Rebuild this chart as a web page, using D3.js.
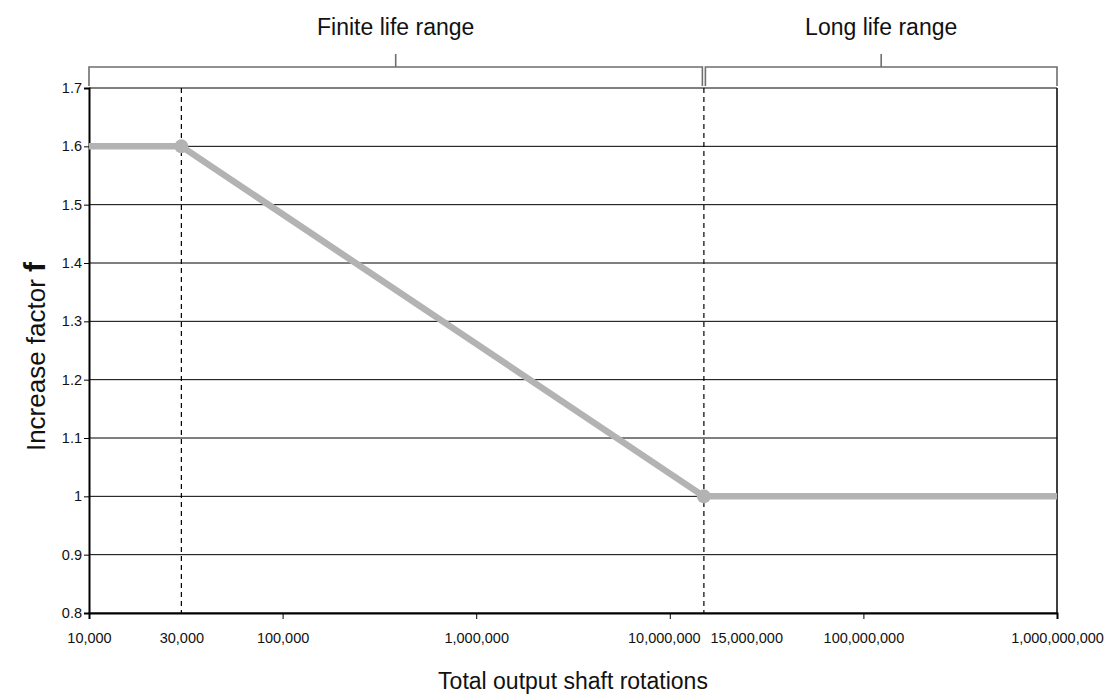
<!DOCTYPE html>
<html>
<head>
<meta charset="UTF-8">
<title>Increase factor vs total output shaft rotations</title>
<style>
    body { margin: 0; background: #fff; }
    svg text { font-family: "Liberation Sans", Arial, Helvetica, sans-serif; fill: #111; }
    .grid line { stroke: #000; stroke-width: 1; }
    .axis path, .axis line { stroke: #000; }
    .axis text { font-size: 14.5px; }
    .bracket { stroke: #6e6e6e; stroke-width: 1.6; fill: none; }
</style>
</head>
<body>
<svg width="1105" height="694"></svg>
<script src="https://d3js.org/d3.v7.min.js"></script>
<script>

    // data
    var xTickValues = [1e4, 3e4, 1e5, 1e6, 1e7, 1.5e7, 1e8, 1e9];
    var xTickLabels = ["10,000", "30,000", "100,000", "1,000,000", "10,000,000", "15,000,000", "100,000,000", "1,000,000,000"];
    var yTickValues = [0.8, 0.9, 1, 1.1, 1.2, 1.3, 1.4, 1.5, 1.6, 1.7];
    var rotations = [1e4, 3e4, 1.5e7, 1e9];
    var factor = [1.6, 1.6, 1.0, 1.0];
    var markerIdx = [1, 2];
    var limits = [3e4, 1.5e7];
    var rangeNames = ["Finite life range", "Long life range"];
    var rangeFrom = [1e4, 1.5e7];
    var rangeTo = [1.5e7, 1e9];

    var svg = d3.select("svg");

    var x = d3.scaleLog().domain([1e4, 1e9]).range([89, 1057]);
    var y = d3.scaleLinear().domain([0.8, 1.7]).range([613, 88]);

    // horizontal grid
    svg.append("g")
        .attr("class", "grid")
        .selectAll("line")
        .data(yTickValues)
        .enter().append("line")
        .attr("x1", x.range()[0])
        .attr("x2", x.range()[1])
        .attr("y1", function(d) { return y(d); })
        .attr("y2", function(d) { return y(d); });

    // right border
    svg.append("line")
        .attr("x1", x.range()[1]).attr("x2", x.range()[1])
        .attr("y1", y.range()[0]).attr("y2", y.range()[1])
        .attr("stroke", "#000").attr("stroke-width", 1.5);

    // dashed limit lines
    svg.append("g")
        .selectAll("line")
        .data(limits)
        .enter().append("line")
        .attr("x1", function(d) { return x(d); })
        .attr("x2", function(d) { return x(d); })
        .attr("y1", y.range()[1])
        .attr("y2", y.range()[0])
        .attr("stroke", "#000")
        .attr("stroke-width", 1.2)
        .attr("stroke-dasharray", "5,4");

    // y axis
    var yAxis = svg.append("g")
        .attr("class", "axis")
        .attr("transform", "translate(" + x.range()[0] + ",0)")
        .call(d3.axisLeft(y).tickValues(yTickValues).tickSize(5).tickPadding(2)
            .tickFormat(function(d) { return String(d); }));
    yAxis.select(".domain").attr("stroke-width", 2);

    // x axis
    var xAxis = svg.append("g")
        .attr("class", "axis")
        .attr("transform", "translate(0," + y.range()[0] + ")")
        .call(d3.axisBottom(x).tickValues(xTickValues).tickSize(6).tickPadding(14)
            .tickFormat(function(d, i) { return xTickLabels[i]; }));
    xAxis.select(".domain").attr("stroke-width", 2);
    xAxis.selectAll(".tick").each(function(d) {
        var t = d3.select(this);
        if (limits.indexOf(d) >= 0) t.select("line").remove();
        if (d === 1.5e7) t.select("text").attr("text-anchor", "start").attr("x", 6);
        if (d === 1e7) t.select("text").attr("x", -6);
    });

    // series
    var pts = rotations.map(function(r, i) { return [r, factor[i]]; });
    var line = d3.line()
        .x(function(d) { return x(d[0]); })
        .y(function(d) { return y(d[1]); });

    svg.append("path")
        .datum(pts)
        .attr("d", line)
        .attr("fill", "none")
        .attr("stroke", "#b3b3b3")
        .attr("stroke-width", 6.5)
        .attr("stroke-linejoin", "round");

    svg.append("g")
        .selectAll("circle")
        .data(markerIdx)
        .enter().append("circle")
        .attr("cx", function(i) { return x(rotations[i]); })
        .attr("cy", function(i) { return y(factor[i]); })
        .attr("r", 7)
        .attr("fill", "#b3b3b3");

    // range brackets
    var br = svg.append("g");
    rangeNames.forEach(function(name, i) {
        var x0 = x(rangeFrom[i]) + (i === 0 ? 0 : 1.5);
        var x1 = x(rangeTo[i]) - (i === 0 ? 1.5 : 0);
        var mid = (x0 + x1) / 2;
        br.append("path")
            .attr("class", "bracket")
            .attr("d", "M" + x0 + ",86V67H" + x1 + "V86M" + mid + ",67V54");
        br.append("text")
            .attr("x", mid)
            .attr("y", 35)
            .attr("text-anchor", "middle")
            .attr("font-size", 23)
            .text(name);
    });

    // axis titles
    svg.append("text")
        .attr("x", (x.range()[0] + x.range()[1]) / 2)
        .attr("y", 689)
        .attr("text-anchor", "middle")
        .attr("font-size", 23)
        .text("Total output shaft rotations");

    var yt = svg.append("text")
        .attr("transform", "translate(45," + ((y.range()[0] + y.range()[1]) / 2 + 6) + ") rotate(-90)")
        .attr("text-anchor", "middle")
        .attr("font-size", 26);
    yt.append("tspan").text("Increase factor ");
    yt.append("tspan").attr("font-weight", "bold").attr("font-size", 30).text("f");

</script>
</body>
</html>
